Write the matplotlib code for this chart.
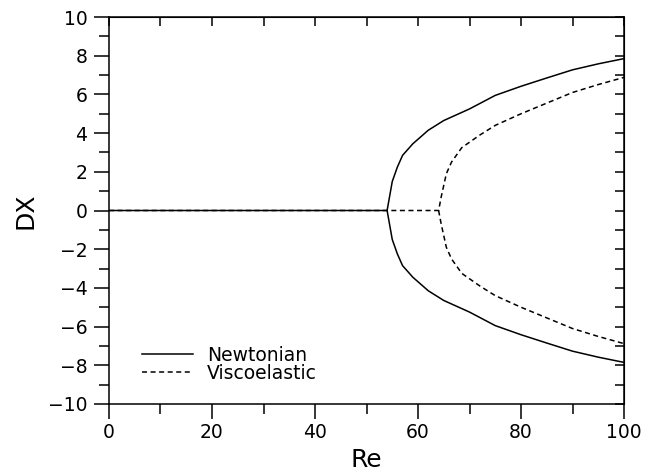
import numpy as np
import matplotlib
matplotlib.use('Agg')
import matplotlib.pyplot as plt
from matplotlib.ticker import MultipleLocator

plt.rcParams['font.family'] = ['DejaVu Sans']

# upper branch of the bifurcation; lower branch is its mirror image
re_newt = [0, 54, 55, 56, 57, 59, 62, 65, 70, 75, 80, 85, 90, 95, 100]
dx_newt = [0, 0, 1.5, 2.25, 2.85, 3.45, 4.15, 4.65, 5.25, 5.95, 6.42, 6.85, 7.27, 7.58, 7.85]

re_visc = [0, 64, 64.5, 65.5, 66.5, 68.5, 72, 75, 80, 85, 90, 95, 100]
dx_visc = [0, 0, 0.7, 1.9, 2.5, 3.25, 3.9, 4.4, 5.0, 5.55, 6.1, 6.51, 6.88]

re_newt = np.array(re_newt)
dx_newt = np.array(dx_newt)
re_visc = np.array(re_visc)
dx_visc = np.array(dx_visc)

lw = 1.1
dash = (0, (3.3, 2.3))

fig = plt.figure(figsize=(6.48, 4.74), dpi=100)
ax = fig.add_axes([0.1682, 0.1477, 0.7948, 0.8164])

ax.plot(re_visc, dx_visc, color='k', lw=lw, linestyle=dash, label='Viscoelastic')
ax.plot(re_visc[1:], -dx_visc[1:], color='k', lw=lw, linestyle=dash)
ax.plot(re_newt, dx_newt, color='k', lw=lw, label='Newtonian')
ax.plot(re_newt[1:], -dx_newt[1:], color='k', lw=lw)

ax.set_xlim(0, 100)
ax.set_ylim(-10, 10)

ax.xaxis.set_major_locator(MultipleLocator(20))
ax.xaxis.set_minor_locator(MultipleLocator(10))
ax.yaxis.set_major_locator(MultipleLocator(2))
ax.yaxis.set_minor_locator(MultipleLocator(1))
ax.tick_params(which='both', direction='out', width=lw, labelsize=13.5,
               top=False, right=False)
ax.tick_params(axis='x', which='major', length=10.5, pad=3)
ax.tick_params(axis='y', which='major', length=10.5, pad=5)
ax.tick_params(which='minor', length=7)
for s in ax.spines.values():
    s.set_linewidth(lw)

# inward ticks along the top and right edges
top = ax.secondary_xaxis('top')
top.xaxis.set_major_locator(MultipleLocator(10))
top.tick_params(direction='in', length=6.5, width=lw, labeltop=False)
right = ax.secondary_yaxis('right')
right.yaxis.set_major_locator(MultipleLocator(1))
right.tick_params(direction='in', length=6.5, width=lw, labelright=False)

ax.set_xlabel('Re', fontsize=18)
ax.set_ylabel('DX', fontsize=18)
ax.xaxis.set_label_coords(0.5, -0.113)
ax.yaxis.set_label_coords(-0.138, 0.5)

h, l = ax.get_legend_handles_labels()
ax.legend(h[::-1], l[::-1], loc='lower left', bbox_to_anchor=(0.064, 0.055),
          frameon=False, fontsize=13.5, handlelength=2.7, handletextpad=0.75,
          labelspacing=-0.05, borderpad=0, borderaxespad=0)

fig.savefig('out.png', dpi=100)
